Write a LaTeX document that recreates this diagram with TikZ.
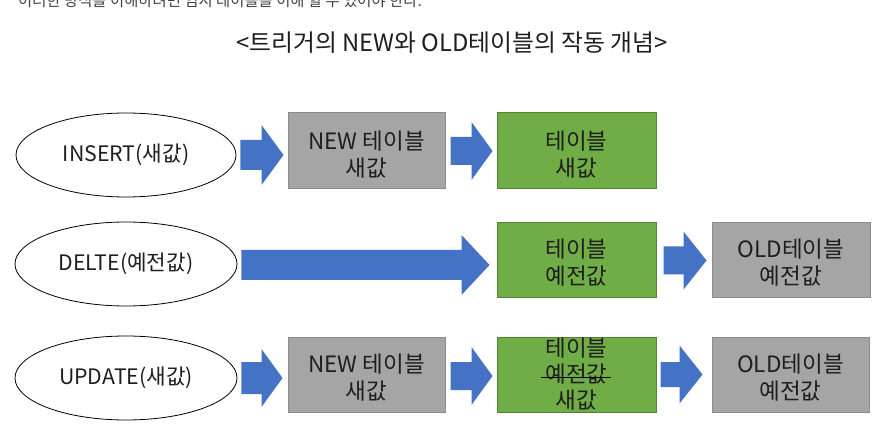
\documentclass[tikz,border=0pt]{standalone}
\usepackage{fontspec}
\setmainfont{Noto Sans CJK KR}
\usetikzlibrary{calc,shapes.geometric}
\definecolor{arrowblue}{HTML}{4472C4}
\definecolor{boxgray}{HTML}{A5A5A5}
\definecolor{boxgrayline}{HTML}{8C8C8C}
\definecolor{boxgreen}{HTML}{70AD47}
\definecolor{boxgreenline}{HTML}{548235}
\definecolor{txt}{HTML}{1E1E1E}
\tikzset{
  lbl/.style={font=\fontsize{22}{27}\selectfont, text=txt, align=center, inner sep=0pt},
  boxtxt/.style={font=\fontsize{22.5}{27}\selectfont, text=txt, align=center, inner sep=0pt},
  op/.style={ellipse, draw=black, line width=0.8pt, fill=white, minimum width=#1, minimum height=84pt, inner sep=0pt, font=\fontsize{21.3}{26}\selectfont, text=txt},
  graybox/.style={draw=boxgrayline, line width=1pt, fill=boxgray, minimum width=157pt, minimum height=76pt, inner sep=0pt},
  greenbox/.style={draw=boxgreenline, line width=1pt, fill=boxgreen, minimum width=159pt, minimum height=76pt, inner sep=0pt},
}
% block arrow: #1 start, #2 tip, #3 body half, #4 head half, #5 head length
\newcommand\blockarr[5]{%
  \fill[arrowblue] let \p1=#1, \p2=#2 in
    (\x1,{\y1+#3}) -- ({\x2-#5},{\y1+#3}) -- ({\x2-#5},{\y1+#4}) -- (\x2,\y1)
    -- ({\x2-#5},{\y1-#4}) -- ({\x2-#5},{\y1-#3}) -- (\x1,{\y1-#3}) -- cycle;}
\begin{document}
\begin{tikzpicture}[x=1pt,y=-1pt]
\useasboundingbox[fill=white] (0,0) rectangle (888,427);
% top cut-off line
\node[anchor=base west, inner sep=0pt, font=\fontsize{15.4}{18}\selectfont, text=txt!85] (intro) at (18,7) {이러한 방식을 이해하려면 임시 테이블을 이해 할 수 있어야 한다.};
% title
\node[lbl, font=\fontsize{23.8}{28}\selectfont] (title) at (452,43) {<트리거의 NEW와 OLD테이블의 작동 개념>};
% row 1
\node[op=220pt] (e1) at (126,155) {INSERT(새값)};
\node[graybox] (n1) at (366.5,151) {};
\node[boxtxt] (n1t) at ($(n1.center)+(0,4)$) {NEW 테이블\\새값};
\node[greenbox] (g1) at (576.5,151) {};
\node[boxtxt] (g1t) at ($(g1.center)+(0,4)$) {테이블\\새값};
% row 2
\node[op=222pt] (e2) at (126,264) {DELTE(예전값)};
\node[greenbox, minimum height=75pt] (g2) at (576.5,260.5) {};
\node[boxtxt] (g2t) at ($(g2.center)+(0,2)$) {테이블\\예전값};
\node[graybox, minimum width=158pt, minimum height=75pt] (o2) at (791,260.5) {};
\node[boxtxt] (o2t) at ($(o2.center)+(0,2)$) {OLD테이블\\예전값};
% row 3
\node[op=222pt] (e3) at (126,378) {UPDATE(새값)};
\node[graybox, minimum height=75pt] (n3) at (366.5,374.5) {};
\node[boxtxt] (n3t) at ($(n3.center)+(0,3)$) {NEW 테이블\\새값};
\node[greenbox, minimum height=75pt] (g3) at (576.5,374.5) {};
\node[boxtxt, font=\fontsize{22.5}{26}\selectfont] (g3t) at (g3.center) {테이블\\예전값\\새값};
\node[graybox, minimum height=75pt] (o3) at (790.5,374.5) {};
\node[boxtxt] (o3t) at ($(o3.center)+(0,3)$) {OLD테이블\\예전값};
\draw[black, line width=0.9pt] ($(g3.center)+(-36,2.5)$) -- ($(g3.center)+(34,2.5)$);
% arrows
\coordinate (a1s) at ($(e1.east)+(4,0)$); \coordinate (a1t) at ($(n1.west |- e1.east)+(-4,0)$);
\blockarr{(a1s)}{(a1t)}{15}{30}{22}
\coordinate (a2s) at ($(n1.east)+(5,0)$); \coordinate (a2t) at ($(g1.west)+(-4,0)$);
\blockarr{(a2s)}{(a2t)}{14}{29}{21}
\coordinate (b1s) at ($(e2.east)+(4,1)$); \coordinate (b1t) at ($(g2.west |- e2.east)+(-7,1)$);
\blockarr{(b1s)}{(b1t)}{15}{30}{28}
\coordinate (b2s) at ($(g2.east)+(7,0)$); \coordinate (b2t) at ($(o2.west)+(-5,0)$);
\blockarr{(b2s)}{(b2t)}{14}{29}{23}
\coordinate (c1s) at ($(e3.east)+(4,0)$); \coordinate (c1t) at ($(n3.west |- e3.east)+(-5,0)$);
\blockarr{(c1s)}{(c1t)}{16}{29}{21}
\coordinate (c2s) at ($(n3.east)+(5,1.5)$); \coordinate (c2t) at ($(g3.west)+(-4,1.5)$);
\blockarr{(c2s)}{(c2t)}{14}{29}{21}
\coordinate (c3s) at ($(g3.east)+(4,0)$); \coordinate (c3t) at ($(o3.west)+(-9,0)$);
\blockarr{(c3s)}{(c3t)}{12.5}{29}{23}
\end{tikzpicture}
\end{document}
